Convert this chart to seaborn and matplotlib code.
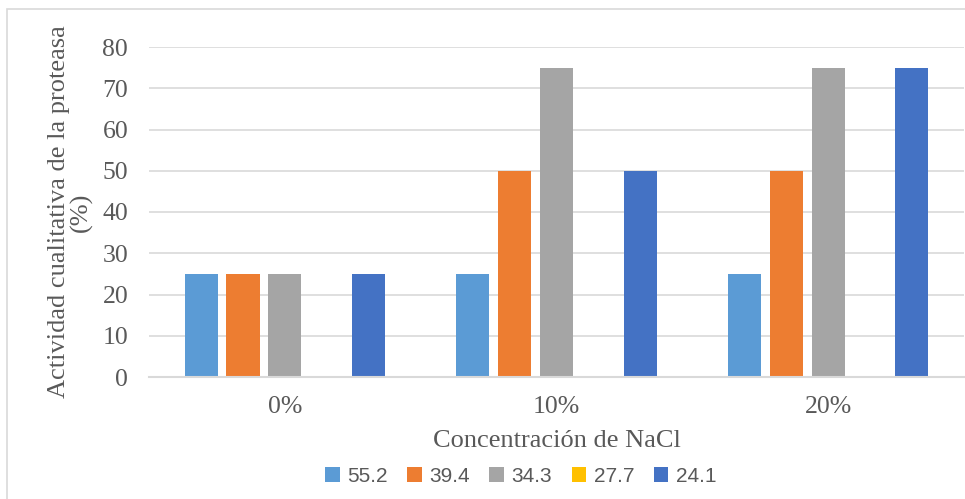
import pandas as pd
import matplotlib
matplotlib.use('Agg')
import matplotlib.pyplot as plt
import seaborn as sns
from matplotlib.patches import Rectangle

categories = ['0%', '10%', '20%']
series = ['55.2', '39.4', '34.3', '27.7', '24.1']
v_552 = [25, 25, 25]
v_394 = [25, 50, 50]
v_343 = [25, 75, 75]
v_277 = [0, 0, 0]
v_241 = [25, 50, 75]
colors = ['#5B9BD5', '#ED7D31', '#A5A5A5', '#FFC000', '#4472C4']

rows = []
for name, vals in zip(series, [v_552, v_394, v_343, v_277, v_241]):
    for cat, v in zip(categories, vals):
        rows.append({'NaCl': cat, 'serie': name, 'actividad': v})
df = pd.DataFrame(rows)

sns.set_style('white')
serif = ['Liberation Serif', 'DejaVu Serif']
grey = '#595959'

fig = plt.figure(figsize=(9.65, 4.99), dpi=100)
ax = fig.add_axes([149 / 965, 1 - 377 / 499, 815 / 965, 330 / 499])

sns.barplot(data=df, x='NaCl', y='actividad', hue='serie', order=categories,
            hue_order=series, palette=colors, saturation=1, width=0.77, gap=0.21,
            linewidth=0, ax=ax, legend=True)

ax.set_ylim(0, 80)
ax.set_xlim(-0.5, 2.5)
ax.set_yticks(range(0, 81, 10))
ax.yaxis.grid(True, color='#D9D9D9', linewidth=1.2)
ax.set_axisbelow(True)
for s in ['top', 'right', 'left']:
    ax.spines[s].set_visible(False)
ax.spines['bottom'].set_color('#D9D9D9')
ax.spines['bottom'].set_linewidth(1.5)
ax.tick_params(axis='both', length=0, labelcolor=grey)
ax.tick_params(axis='y', pad=15)
ax.tick_params(axis='x', pad=14)
for lab in ax.get_xticklabels() + ax.get_yticklabels():
    lab.set_family(serif)
    lab.set_fontsize(18.5)

ax.set_xlabel('Concentración de NaCl', family=serif, fontsize=19, color=grey, labelpad=8)
ax.set_ylabel('Actividad cualitativa de la proteasa\n(%)', family=serif, fontsize=19,
              color=grey, labelpad=7, linespacing=1.0)

leg = ax.legend(loc='center', bbox_to_anchor=(0.456, -0.30), ncol=5, frameon=False,
                handlelength=0.7, handleheight=0.7, handletextpad=0.35,
                columnspacing=0.95, prop={'family': 'Liberation Sans', 'size': 15})
for t in leg.get_texts():
    t.set_color(grey)

fig.patches.append(Rectangle((7 / 965, -0.1), 1.2, 1 - 9 / 499 + 0.1,
                             transform=fig.transFigure, fill=False,
                             edgecolor='#D9D9D9', linewidth=1.2))

fig.savefig('out.png', dpi=100)
